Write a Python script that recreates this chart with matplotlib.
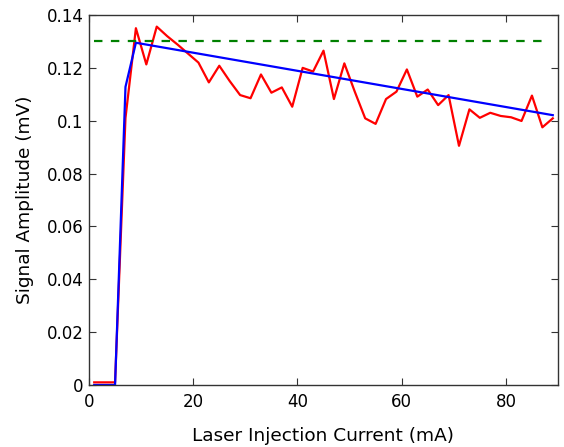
import matplotlib
matplotlib.use('Agg')
import matplotlib.pyplot as plt

# measured signal (red)
current = [1, 3, 5, 7, 9, 11, 13, 15, 17, 19, 21, 23, 25, 27, 29, 31, 33, 35, 37, 39,
           41, 43, 45, 47, 49, 51, 53, 55, 57, 59, 61, 63, 65, 67, 69, 71, 73, 75, 77,
           79, 81, 83, 85, 87, 89]
amplitude = [0.001, 0.001, 0.001, 0.101, 0.135, 0.1213, 0.1356, 0.132, 0.1288, 0.1254,
             0.122, 0.1145, 0.1208, 0.115, 0.1097, 0.1085, 0.1175, 0.1106, 0.1126, 0.1053,
             0.120, 0.1186, 0.1265, 0.1082, 0.1217, 0.111, 0.1009, 0.0988, 0.1082, 0.111,
             0.1194, 0.1091, 0.1118, 0.1059, 0.1097, 0.0905, 0.1043, 0.1011, 0.103, 0.1018,
             0.1013, 0.0999, 0.1095, 0.0975, 0.1009]

# model (blue)
fit_x = [1, 5, 7, 9, 89]
fit_y = [0.0, 0.0, 0.1128, 0.1295, 0.1021]

# saturation level (green dashed)
sat_x = [1, 88.5]
sat_y = [0.13, 0.13]

plt.rcParams['font.family'] = 'DejaVu Sans'
fig = plt.figure(figsize=(5.64, 4.47), dpi=100)
ax = fig.add_axes([89/564, 62/447, 469/564, 370/447])

ax.plot(current, amplitude, '-', color='red', lw=1.6)
ax.plot(fit_x, fit_y, '-', color='blue', lw=1.6)
ax.plot(sat_x, sat_y, '--', color='green', lw=1.6, dashes=(3.8, 3.8))

ax.set_xlim(0, 90)
ax.set_ylim(0, 0.14)
ax.set_xticks([0, 20, 40, 60, 80])
ax.set_yticks([0, 0.02, 0.04, 0.06, 0.08, 0.1, 0.12, 0.14])
ax.set_yticklabels(['0', '0.02', '0.04', '0.06', '0.08', '0.1', '0.12', '0.14'])
ax.tick_params(direction='in', top=True, right=True, length=5, labelsize=12,
               color='#333333')
ax.tick_params(axis='x', pad=6)
ax.tick_params(axis='y', pad=4)
for s in ax.spines.values():
    s.set_color('#333333')
    s.set_linewidth(1.0)

ax.set_xlabel('Laser Injection Current (mA)', fontsize=13.3, labelpad=11)
ax.set_ylabel('Signal Amplitude (mV)', fontsize=13.3, labelpad=9)

fig.savefig('out.png', dpi=100)
